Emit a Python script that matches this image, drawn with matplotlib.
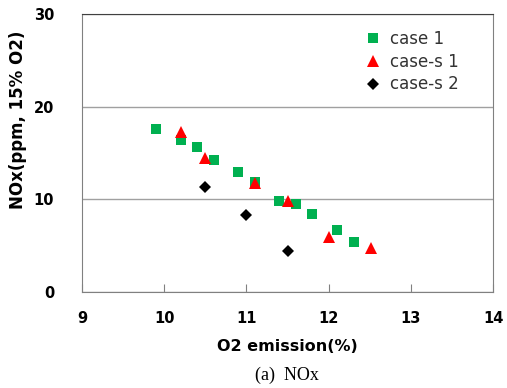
import matplotlib
matplotlib.use("Agg")
import matplotlib.pyplot as plt

case1_x = [9.9, 10.21, 10.4, 10.6, 10.9, 11.1, 11.4, 11.6, 11.8, 12.1, 12.31]
case1_y = [17.6, 16.4, 15.6, 14.2, 12.9, 11.9, 9.8, 9.5, 8.4, 6.7, 5.4]
cases1_x = [10.2, 10.5, 11.1, 11.51, 12.0, 12.51]
cases1_y = [17.3, 14.5, 11.8, 9.8, 5.9, 4.8]
cases2_x = [10.5, 11.0, 11.5]
cases2_y = [11.3, 8.3, 4.4]

x_ticks = [9, 10, 11, 12, 13, 14]
y_ticks = [0, 10, 20, 30]

plt.rcParams['font.family'] = ['DejaVu Sans']

fig = plt.figure(figsize=(5.07, 3.88), dpi=100)
ax = fig.add_axes([82/507, 1-292/388, (493-82)/507, (292-14)/388])

ax.plot(case1_x, case1_y, 's', color='#00B050', ms=7.5, mew=0, label='case 1', zorder=3)
ax.plot(cases1_x, cases1_y, '^', color='#FF0000', ms=8.5, mew=0, label='case-s 1', zorder=4)
ax.plot(cases2_x, cases2_y, 'D', color='black', ms=6.5, mew=0, label='case-s 2', zorder=4)

ax.set_xlim(9, 14)
ax.set_ylim(0, 30)
ax.set_xticks(x_ticks)
ax.set_yticks(y_ticks)
ax.set_xticklabels([str(v) for v in x_ticks], fontweight='bold', fontsize=10.5)
ax.set_yticklabels([str(v) for v in y_ticks], fontweight='bold', fontsize=10.5)
ax.tick_params(axis='x', direction='in', length=6, color='#808080', pad=14)
ax.tick_params(axis='y', length=0, pad=20)
ax.grid(axis='y', color='#a0a0a0', lw=1.0)
ax.set_axisbelow(True)
for s in ['left', 'bottom', 'right']:
    ax.spines[s].set_color('#808080')
ax.spines['top'].set_color('#404040')

ax.set_xlabel('O2 emission(%)', fontweight='bold', fontsize=11.5, labelpad=9)
ax.set_ylabel('NOx(ppm, 15% O2)', fontweight='bold', fontsize=12)
ax.yaxis.set_label_coords(-0.135, 0.62)

leg = ax.legend(loc='upper left', frameon=False, fontsize=12, handletextpad=0.5,
                labelspacing=0.28, bbox_to_anchor=(0.655, 0.99), handlelength=1.0,
                borderpad=0.3)
for t in leg.get_texts():
    t.set_color('#333333')

fig.text(287/507, 1-375/388, '(a)  NOx', family='Liberation Serif', fontsize=13,
         ha='center', va='center')

fig.savefig('out.png', dpi=100)
